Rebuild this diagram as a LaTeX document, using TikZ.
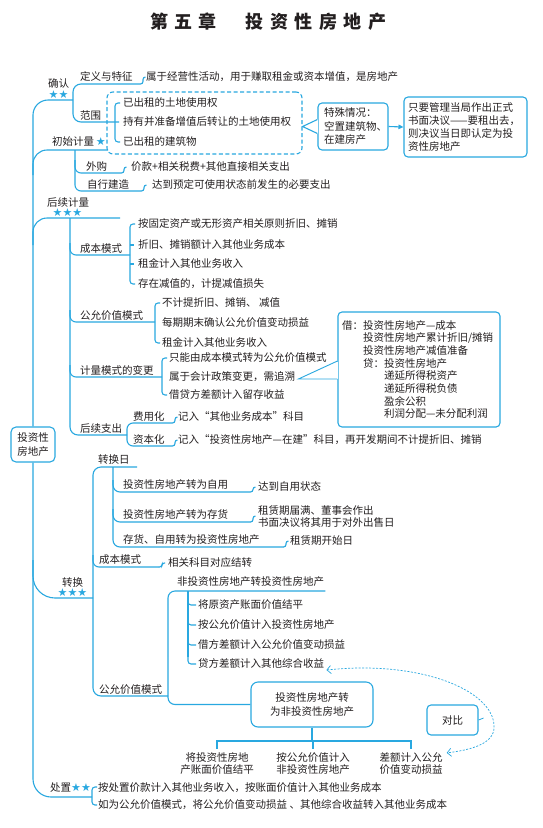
\documentclass[tikz,border=0pt]{standalone}
\usepackage{fontspec}
\setmainfont{Noto Sans CJK SC}
\newfontfamily\symfont{DejaVu Sans}
\usetikzlibrary{arrows.meta,calc}
\definecolor{lb}{RGB}{41,168,224}
\definecolor{tc}{RGB}{35,31,32}
\newcommand\myfs{\fontsize{10.5}{12.7}\selectfont}
\newcommand\mystar{{\symfont\fontsize{11}{11}\selectfont\textcolor{lb}{★}}}
\newcommand\lsp{\hspace{6.5pt}}
\begin{document}
\begin{tikzpicture}[x=1pt,y=-1pt,
  ln/.style={draw=lb, line width=1.1pt},
  tx/.style={anchor=west, inner sep=0pt, text height=9.2pt, text depth=1.3pt, font=\myfs, text=tc},
  mt/.style={inner sep=0pt, font=\myfs, text=tc},
  bx/.style={draw=lb, line width=1.1pt, rounded corners=4pt, font=\myfs, text=tc},
  hk/.style={draw=lb, line width=1.1pt, rounded corners=2.5pt},
  stars/.style={inner sep=0pt}]
\useasboundingbox (0,0) rectangle (543,828);
\fill[white] (0,0) rectangle (543,828);

% title
\node[inner sep=0pt, font=\fontsize{18}{18}\selectfont\bfseries, text=tc] (t1) at (183.5,22) {第\lsp 五\lsp 章};
\node[inner sep=0pt, font=\fontsize{18}{18}\selectfont\bfseries, text=tc] (t2) at (316,22) {投\lsp 资\lsp 性\lsp 房\lsp 地\lsp 产};

% root and spine
\node[bx, rounded corners=5pt, minimum width=44pt, minimum height=35pt, align=center, inner sep=0pt,
      font=\fontsize{10.5}{14}\selectfont] (root) at (33,444.5) {投资性\\房地产};
\draw[ln, rounded corners=15pt] (73,100) -- (33,100) -- (root.north);
\draw[ln, rounded corners=18pt] (root.south) -- (33,797) -- (92,797);
\draw[ln, rounded corners=14pt] (33,175) -- (33,150) -- (108,150);
\draw[ln, rounded corners=14pt] (33,245) -- (33,218) -- (120,218);
\draw[ln, rounded corners=22pt] (33,560) -- (33,598) -- (93,598);

% ---------- 确认
\node[tx] (qr) at (48,84) {确认};
\node[stars] (qrs) at (58.5,95) {\mystar\mystar};
\draw[ln, rounded corners=8pt] (140,84) -- (73,84) -- (73,122) -- (119,122);
\node[tx] (dy) at (80,77) {定义与特征};
\draw[hk] (140,84) -| ++(3,-7) -- ++(2.5,0);
\node[tx] (dyi) at (146,77) {属于经营性活动，用于赚取租金或资本增值，是房地产};
\node[tx] (fw) at (80,116) {范围};
\draw[ln, rounded corners=3pt] (120,103) -- (115,103) -- (115,142) -- (120,142);
\node[tx] (fw1) at (123,103) {已出租的土地使用权};
\node[tx] (fw2) at (123,122) {持有并准备增值后转让的土地使用权};
\node[tx] (fw3) at (123,142) {已出租的建筑物};
\node[draw=lb, line width=1.1pt, dash pattern=on 4pt off 2.5pt, rounded corners=6pt,
      minimum width=195pt, minimum height=62pt, inner sep=0pt] (dbox) at (204.5,123) {};
\node[bx, text width=58pt, inner xsep=6pt, minimum height=47pt, align=left,
      font=\fontsize{10.5}{13.5}\selectfont] (sp) at (353,126.5) {特殊情况：\\空置建筑物、\\在建房产};
\fill[white] ($(sp.west)+(-1,-7.5)$) rectangle ($(sp.west)+(1,7.5)$);
\draw[ln] ($(sp.west)+(0,-7)$) -- (dbox.east |- sp.west) -- ($(sp.west)+(0,7)$);
\node[bx, text width=115pt, inner xsep=4pt, minimum height=60pt, align=left] (bx2) at (465.5,127)
  {\mbox{只要管理当局作出正式}\\\mbox{书面决议——要租出去，}\\\mbox{则决议当日即认定为投}\\\mbox{资性房地产}};
\draw[ln, -{Triangle[length=5pt,width=4.5pt]}] (sp.east) -- (bx2.west);

% ---------- 初始计量
\node[tx] (cs) at (52,142) {初始计量\,\mystar};
\draw[ln, rounded corners=6pt] (75,150) -- (75,191) -- (141,191);
\draw[ln, rounded corners=6pt] (75,160) -- (75,173) -- (121,173);
\node[tx] (wg) at (86,167) {外购};
\draw[hk] (121,173) -| ++(3,-6) -- ++(2.5,0);
\node[tx] (wgi) at (131,167) {价款+相关税费+其他直接相关支出};
\node[tx] (zx) at (87,185) {自行建造};
\draw[hk] (141,191) -| ++(3,-6) -- ++(2.5,0);
\node[tx] (zxi) at (152,185) {达到预定可使用状态前发生的必要支出};

% ---------- 后续计量
\node[tx] (hx) at (47,203) {后续计量};
\node[stars] (hxs) at (67.5,213) {\mystar\mystar\mystar};
\draw[ln, rounded corners=8pt] (70,218) -- (70,435) -- (127,435);
% 成本模式
\draw[ln, rounded corners=6pt] (70,243) -- (70,255) -- (130,255);
\node[tx] (cb) at (80,249) {成本模式};
\draw[ln, rounded corners=3pt] (135,224) -- (130,224) -- (130,284) -- (135,284);
\draw[ln] (130,245) -- (134,245);
\draw[ln] (130,264) -- (134,264);
\node[tx] (cb1) at (138,224) {按固定资产或无形资产相关原则折旧、摊销};
\node[tx] (cb2) at (138,245) {折旧、摊销额计入其他业务成本};
\node[tx] (cb3) at (138,264) {租金计入其他业务收入};
\node[tx] (cb4) at (138,284) {存在减值的，计提减值损失};
% 公允价值模式
\draw[ln, rounded corners=6pt] (70,310) -- (70,322) -- (155,322);
\node[tx] (gy) at (80,316) {公允价值模式};
\draw[ln, rounded corners=3pt] (160,303) -- (155,303) -- (155,343) -- (160,343);
\node[tx] (gy1) at (162,303) {不计提折旧、摊销、 减值};
\node[tx] (gy2) at (162,323) {每期期末确认公允价值变动损益};
\node[tx] (gy3) at (162,343) {租金计入其他业务收入};
% 计量模式的变更
\draw[ln, rounded corners=6pt] (70,365) -- (70,377) -- (162,377);
\node[tx] (bg) at (80,371) {计量模式的变更};
\draw[ln, rounded corners=3pt] (167,358) -- (162,358) -- (162,395) -- (167,395);
\node[tx] (bg1) at (169,358) {只能由成本模式转为公允价值模式};
\node[tx] (bg2) at (169,377) {属于会计政策变更，需追溯};
\node[tx] (bg3) at (169,395) {借贷方差额计入留存收益};
\node[bx, text width=154pt, inner xsep=4pt, minimum height=115pt, align=left] (jd) at (419,369.5)
  {借：投资性房地产—成本\\
   \hspace*{2em}投资性房地产累计折旧/摊销\\
   \hspace*{2em}投资性房地产减值准备\\
   \hspace*{2em}贷：投资性房地产\\
   \hspace*{4em}递延所得税资产\\
   \hspace*{4em}递延所得税负债\\
   \hspace*{4em}盈余公积\\
   \hspace*{4em}利润分配—未分配利润};
\fill[white] ($(jd.west)+(-1,-8)$) rectangle ($(jd.west)+(1,9)$);
\draw[ln, line width=0.9pt] ($(jd.west)+(0,-8.5)$) -- ($(bg2.east)+(3,2)$) -- ($(jd.west)+(0,9.5)$);
% 后续支出
\node[tx] (hz) at (80,429) {后续支出};
\draw[ln, rounded corners=6pt] (172,423) -- (127,423) -- (127,446) -- (172,446);
\node[tx] (fy) at (133,417) {费用化};
\node[tx] (zb) at (133,440) {资本化};
\draw[hk] (172,423) -| ++(3,-6) -- ++(2.5,0);
\draw[hk] (172,446) -| ++(3,-6) -- ++(2.5,0);
\node[tx] (fyi) at (178,417) {记入“其他业务成本”科目};
\node[tx] (zbi) at (178,440) {记入“投资性房地产—在建”科目，再开发期间不计提折旧、摊销};

% ---------- 转换
\node[tx] (zh) at (62,583) {转换};
\node[stars] (zhs) at (72.5,593) {\mystar\mystar\mystar};
\draw[ln, rounded corners=8pt] (137,467) -- (93,467) -- (93,696) -- (168,696);
\node[tx] (zhr) at (98,460) {转换日};
\draw[ln, rounded corners=7pt] (113,467) -- (113,547) -- (283,547);
\draw[ln, rounded corners=7pt] (113,480) -- (113,492) -- (250,492);
\draw[ln, rounded corners=7pt] (113,509) -- (113,522) -- (250,522);
\node[tx] (zh1) at (123,485) {投资性房地产转为自用};
\node[tx] (zh2) at (123,515) {投资性房地产转为存货};
\node[tx] (zh3) at (123,540) {存货、自用转为投资性房地产};
\draw[hk] (250,492) -| ++(3,-5) -- ++(2.5,0);
\draw[hk] (250,522) -| ++(3,-6) -- ++(2.5,0);
\draw[hk] (283,547) -| ++(3,-6) -- ++(2.5,0);
\node[tx] (zh1i) at (258,487) {达到自用状态};
\node[mt, anchor=west, align=left, font=\fontsize{10.5}{12.5}\selectfont] (zh2i) at (258,516.5) {租赁期届满、董事会作出\\书面决议将其用于对外出售日};
\node[tx] (zh3i) at (290,541) {租赁期开始日};
% 成本模式
\draw[ln, rounded corners=6pt] (93,555) -- (93,567) -- (158,567);
\node[tx] (zcb) at (99,560) {成本模式};
\draw[hk] (158,567) -| ++(4,-4) -- ++(3,0);
\node[tx] (zcbi) at (168,563) {相关科目对应结转};
% 公允价值模式
\node[tx] (zgy) at (99,690) {公允价值模式};
\node[bx, rounded corners=7pt, minimum width=122pt, minimum height=45pt, align=center,
      font=\fontsize{10.5}{13.5}\selectfont] (fz) at (312,704.5) {投资性房地产转\\为非投资性房地产};
\node[tx] (fzt) at (177,582) {非投资性房地产转投资性房地产};
\draw[ln, rounded corners=7pt] ($(fzt.east)+(1,9)$) -- (168,591) -- (168,704.5) -- (fz.west);
\draw[ln, line width=1.6pt] (188,591) -- (188,657);
\draw[ln, rounded corners=3pt] (188,597) -- (188,605) -- (196,605);
\draw[ln, rounded corners=3pt] (188,617) -- (188,625) -- (196,625);
\draw[ln, rounded corners=3pt] (188,637) -- (188,645) -- (196,645);
\draw[ln, rounded corners=3pt] (188,656) -- (188,664) -- (196,664);
\node[tx] (gd1) at (198,605) {将原资产账面价值结平};
\node[tx] (gd2) at (198,625) {按公允价值计入投资性房地产};
\node[tx] (gd3) at (198,645) {借方差额计入公允价值变动损益};
\node[tx] (gd4) at (198,664) {贷方差额计入其他综合收益};
% 对比
\coordinate (hb) at (312,741);
\node[mt, align=center, inner ysep=4pt, font=\fontsize{10.5}{12}\selectfont] (c1) at (217,764) {将投资性房地\\产账面价值结平};
\node[mt, align=center, inner ysep=4pt, font=\fontsize{10.5}{12}\selectfont] (c2) at (313,764) {按公允价值计入\\非投资性房地产};
\node[mt, align=center, inner ysep=4pt, font=\fontsize{10.5}{12}\selectfont] (c3) at (411,764) {差额计入公允\\价值变动损益};
\draw[ln] (fz.south) -- (hb);
\draw[ln] (c1.north) -- (c1.north |- hb) -- (c3.north |- hb) -- (c3.north);
\draw[ln] (c2.north) -- (c2.north |- hb);
\node[bx, minimum width=51pt, minimum height=30pt] (db) at (452.5,720) {对比};
\draw[lb, line width=0.8pt] (db.east) -- ++(5,-2);
\draw[lb, line width=0.7pt, dash pattern=on 2pt off 1.5pt,
      {Straight Barb[length=4pt]}-{Straight Barb[length=4pt]}]
  ($(gd4.east)+(2,6)$) .. controls (420,660) and (492,690) .. (494,725)
  .. controls (496,744) and (470,750) .. ($(c3.north east)+(4,4)$);

% ---------- 处置
\node[tx] (cz) at (50,788) {处置\mystar\mystar};
\draw[ln, rounded corners=3pt] (97,787) -- (92,787) -- (92,805) -- (97,805);
\node[tx] (cz1) at (98,788) {按处置价款计入其他业务收入，按账面价值计入其他业务成本};
\node[tx] (cz2) at (98,805) {如为公允价值模式，将公允价值变动损益 、其他综合收益转入其他业务成本};
\end{tikzpicture}
\end{document}
